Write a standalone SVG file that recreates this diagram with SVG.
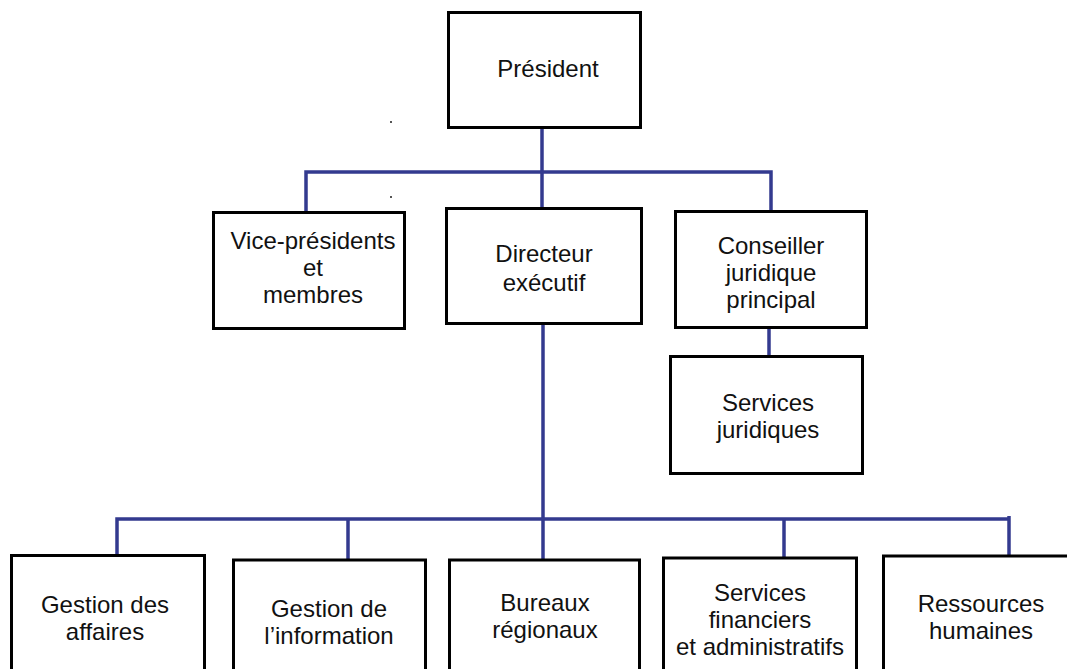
<svg xmlns="http://www.w3.org/2000/svg" width="1067" height="669" viewBox="0 0 1067 669">
<style>
.box{fill:#fff;stroke:#000;stroke-width:3}
.lbl{font-family:"Liberation Sans",Arial,sans-serif;font-size:24px;fill:#111;text-anchor:middle}
.con{stroke:#333a8f;stroke-width:3.5;fill:none}
</style>
<rect width="1067" height="669" fill="#fff"/>
<g id="connectors">
<path class="con" d="M542 129V207"/>
<path class="con" d="M306 211V172H771V210"/>
<path class="con" d="M769 329V355"/>
<path class="con" d="M543 325V559"/>
<path class="con" d="M117 554V519H1009"/>
<path class="con" d="M348 519V559"/>
<path class="con" d="M784 519V557"/>
<path class="con" d="M1009 516V555"/>
</g>
<rect x="390" y="121" width="2" height="2" fill="#555"/>
<rect x="390" y="196" width="2" height="2" fill="#555"/>
<g id="president">
<rect class="box" x="448.5" y="12.5" width="192" height="115"/>
<text class="lbl" x="548" y="77">Président</text>
</g>
<g id="vice-presidents">
<rect class="box" x="213.5" y="212.5" width="191" height="116"/>
<text class="lbl" x="313" y="249">Vice-présidents</text>
<text class="lbl" x="313" y="276">et</text>
<text class="lbl" x="313" y="303">membres</text>
</g>
<g id="directeur">
<rect class="box" x="446.5" y="208.5" width="195" height="115"/>
<text class="lbl" x="544" y="262">Directeur</text>
<text class="lbl" x="544" y="291">exécutif</text>
</g>
<g id="conseiller">
<rect class="box" x="675.5" y="211.5" width="191" height="116"/>
<text class="lbl" x="771" y="254">Conseiller</text>
<text class="lbl" x="771" y="281">juridique</text>
<text class="lbl" x="771" y="308">principal</text>
</g>
<g id="services-juridiques">
<rect class="box" x="670.5" y="356.5" width="192" height="117"/>
<text class="lbl" x="768" y="411">Services</text>
<text class="lbl" x="768" y="438">juridiques</text>
</g>
<g id="gestion-affaires">
<rect class="box" x="11.5" y="555.5" width="193" height="130"/>
<text class="lbl" x="105" y="613">Gestion des</text>
<text class="lbl" x="105" y="640">affaires</text>
</g>
<g id="gestion-information">
<rect class="box" x="233.5" y="560" width="192" height="130"/>
<text class="lbl" x="329" y="617">Gestion de</text>
<text class="lbl" x="329" y="644">l’information</text>
</g>
<g id="bureaux">
<rect class="box" x="449.5" y="560" width="190" height="130"/>
<text class="lbl" x="545" y="611">Bureaux</text>
<text class="lbl" x="545" y="638">régionaux</text>
</g>
<g id="services-financiers">
<rect class="box" x="663.5" y="558" width="193" height="130"/>
<text class="lbl" x="760" y="601">Services</text>
<text class="lbl" x="760" y="628">financiers</text>
<text class="lbl" x="760" y="655">et administratifs</text>
</g>
<g id="ressources-humaines">
<rect class="box" x="883.5" y="556" width="200" height="130"/>
<text class="lbl" x="981" y="612">Ressources</text>
<text class="lbl" x="981" y="639">humaines</text>
</g>
</svg>
